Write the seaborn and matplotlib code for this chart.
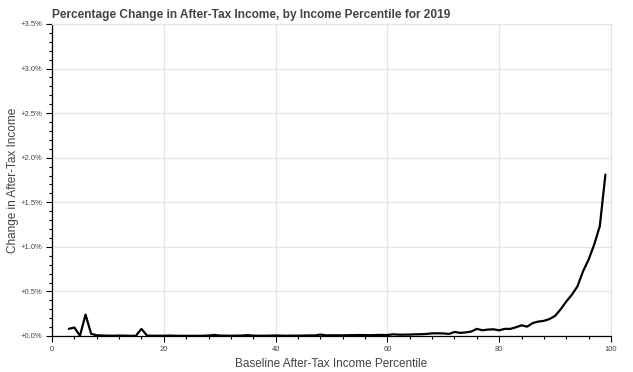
import numpy as np
import pandas as pd
import matplotlib
matplotlib.use("Agg")
import matplotlib.pyplot as plt
from matplotlib.ticker import MultipleLocator, FuncFormatter
import seaborn as sns

percentile = list(range(3, 100))
pct_change = [
    0.080, 0.095, 0.003, 0.240, 0.025, 0.008, 0.006, 0.004, 0.003, 0.005,   # 3-12
    0.004, 0.002, 0.002, 0.080, 0.005, 0.003, 0.003, 0.003, 0.005, 0.003,   # 13-22
    0.002, 0.002, 0.002, 0.002, 0.003, 0.005, 0.012, 0.005, 0.004, 0.003,   # 23-32
    0.004, 0.005, 0.010, 0.004, 0.003, 0.003, 0.004, 0.006, 0.004, 0.003,   # 33-42
    0.004, 0.004, 0.005, 0.007, 0.006, 0.016, 0.007, 0.008, 0.008, 0.007,   # 43-52
    0.009, 0.010, 0.011, 0.010, 0.009, 0.011, 0.012, 0.011, 0.019, 0.015,   # 53-62
    0.015, 0.016, 0.019, 0.020, 0.023, 0.030, 0.030, 0.029, 0.023, 0.045,   # 63-72
    0.035, 0.040, 0.050, 0.080, 0.064, 0.072, 0.075, 0.064, 0.080, 0.080,   # 73-82
    0.098, 0.120, 0.105, 0.145, 0.162, 0.170, 0.190, 0.226, 0.300, 0.387,   # 83-92
    0.463, 0.557, 0.726, 0.858, 1.027, 1.234, 1.810,                        # 93-99
]

title = "Percentage Change in After-Tax Income, by Income Percentile for 2019"
xlabel = "Baseline After-Tax Income Percentile"
ylabel = "Change in After-Tax Income"

df = pd.DataFrame({"percentile": percentile, "change": pct_change})

sns.set_style("white")
plt.rcParams["font.family"] = ["Liberation Sans", "DejaVu Sans"]

fig = plt.figure(figsize=(6.33, 3.72), dpi=100)
ax = fig.add_axes([52 / 633, 1 - 336 / 372, (611 - 52) / 633, (336 - 24) / 372])

sns.lineplot(data=df, x="percentile", y="change", ax=ax, color="black", linewidth=1.6)

ax.set_xlim(0, 100)
ax.set_ylim(0, 3.5)
ax.xaxis.set_major_locator(MultipleLocator(20))
ax.xaxis.set_minor_locator(MultipleLocator(4))
ax.yaxis.set_major_locator(MultipleLocator(0.5))
ax.yaxis.set_minor_locator(MultipleLocator(0.1))
ax.yaxis.set_major_formatter(FuncFormatter(lambda v, p: f"{v:+.1f}%"))

ax.grid(True, which="major", color="#e5e5e5", linewidth=0.9)
ax.set_axisbelow(True)

for s in ["top", "right"]:
    ax.spines[s].set_color("#e5e5e5")
    ax.spines[s].set_linewidth(0.9)
for s in ["left", "bottom"]:
    ax.spines[s].set_color("black")
    ax.spines[s].set_linewidth(0.9)

ax.tick_params(axis="both", which="major", direction="out", length=4, width=0.8,
               color="black", labelsize=5.5, labelcolor="#444444", pad=3,
               bottom=True, left=True)
ax.tick_params(axis="both", which="minor", direction="out", length=2, width=0.8,
               color="black", bottom=True, left=True)

ax.set_xlabel(xlabel, fontsize=8.5, color="#444444", labelpad=4)
ax.set_ylabel(ylabel, fontsize=8.5, color="#444444", labelpad=1)
ax.set_title(title, fontsize=8.6, fontweight="bold", color="#444444", loc="left", pad=4)

fig.savefig("out.png", dpi=100)
